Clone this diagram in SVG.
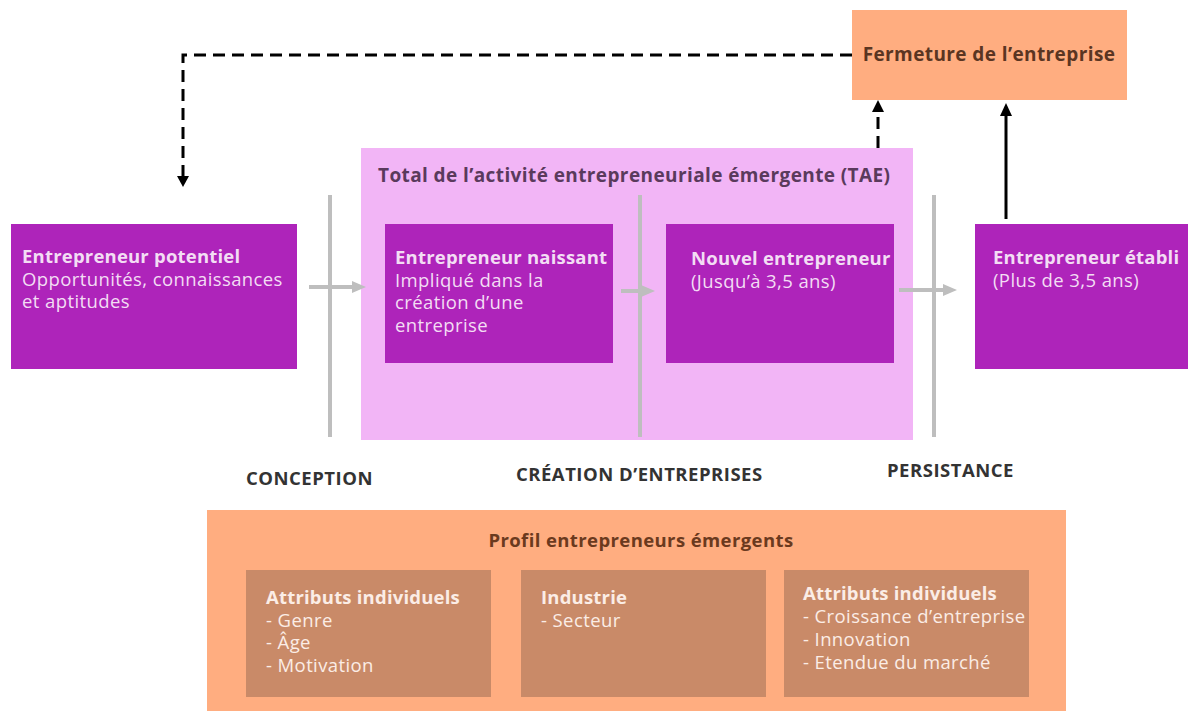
<svg xmlns="http://www.w3.org/2000/svg" width="1188" height="711" viewBox="0 0 1188 711">
<style>
text{font-family:"Open Sans","DejaVu Sans",sans-serif;}
.purple{fill:#AE24BA;}
.pt{fill:#F3DDF4;font-size:18.5px;letter-spacing:0.4px;}
.b{font-weight:bold;letter-spacing:0.2px;}
.grey{stroke:#BEBEBE;stroke-width:4;fill:none;}
.stage{fill:#333333;font-size:18.5px;font-weight:bold;letter-spacing:0.5px;}
.sub{fill:#C98A68;}
.st{fill:#FBEDE6;font-size:18.5px;letter-spacing:0.4px;}
.dash{stroke:#000;stroke-width:3;fill:none;stroke-dasharray:12,7;}
.big{font-size:19px;font-weight:bold;letter-spacing:0.4px;}
</style>
<defs>
<marker id="gh" markerWidth="14" markerHeight="14" refX="7" refY="7" orient="auto" markerUnits="userSpaceOnUse">
<path d="M0,1 L14,7 L0,13 Z" fill="#BEBEBE"/>
</marker>
</defs>
<rect width="1188" height="711" fill="#fff"/>

<g id="tae">
<rect x="361" y="148" width="552" height="292" fill="#F2B5F6"/>
<text x="378" y="182" fill="#5A3A5C" class="big">Total de l’activité entrepreneuriale émergente (TAE)</text>
</g>

<g id="fermeture">
<rect x="852" y="10" width="275" height="90" fill="#FFAD80"/>
<text x="989" y="61" text-anchor="middle" fill="#5A3522" class="big">Fermeture de l’entreprise</text>
</g>

<g id="separators">
<line class="grey" x1="330" y1="195" x2="330" y2="437"/>
<line class="grey" x1="640" y1="195" x2="640" y2="437"/>
<line class="grey" x1="934" y1="195" x2="934" y2="437"/>
</g>

<g id="potentiel">
<rect class="purple" x="11" y="224" width="286" height="145"/>
<text class="pt" x="22" y="263"><tspan class="b">Entrepreneur potentiel</tspan><tspan x="22" dy="22.5">Opportunités, connaissances</tspan><tspan x="22" dy="22.5">et aptitudes</tspan></text>
</g>

<g id="naissant">
<rect class="purple" x="385" y="224" width="228" height="139"/>
<text class="pt" x="395" y="264"><tspan class="b">Entrepreneur naissant</tspan><tspan x="395" dy="22.5">Impliqué dans la</tspan><tspan x="395" dy="22.5">création d’une</tspan><tspan x="395" dy="22.5">entreprise</tspan></text>
</g>

<g id="nouvel">
<rect class="purple" x="666" y="224" width="228" height="139"/>
<text class="pt" x="691" y="265"><tspan class="b">Nouvel entrepreneur</tspan><tspan x="691" dy="23">(Jusqu’à 3,5 ans)</tspan></text>
</g>

<g id="etabli">
<rect class="purple" x="975" y="224" width="213" height="145"/>
<text class="pt" x="993" y="264"><tspan class="b">Entrepreneur établi</tspan><tspan x="993" dy="23">(Plus de 3,5 ans)</tspan></text>
</g>

<g id="connectors">
<line class="grey" x1="309" y1="287" x2="359" y2="287" marker-end="url(#gh)"/>
<line class="grey" x1="621" y1="291" x2="648" y2="291" marker-end="url(#gh)"/>
<line class="grey" x1="899" y1="290" x2="950" y2="290" marker-end="url(#gh)"/>
<path class="dash" d="M852,55 H183 V178"/>
<path d="M177,176 L189,176 L183,187 Z" fill="#000"/>
<line class="dash" x1="878" y1="148" x2="878" y2="110"/>
<path d="M872,112 L884,112 L878,100 Z" fill="#000"/>
<line stroke="#000" stroke-width="3" x1="1006" y1="219" x2="1006" y2="112"/>
<path d="M1000,116 L1012,116 L1006,103 Z" fill="#000"/>
</g>

<g id="stages">
<text class="stage" x="246" y="485">CONCEPTION</text>
<text class="stage" x="516" y="481">CRÉATION D’ENTREPRISES</text>
<text class="stage" x="887" y="477">PERSISTANCE</text>
</g>

<g id="profil">
<rect x="207" y="510" width="859" height="201" fill="#FFAD80"/>
<text x="641" y="547" text-anchor="middle" fill="#6B3A1E" class="big" style="font-size:18.5px">Profil entrepreneurs émergents</text>
</g>

<g id="attributs1">
<rect class="sub" x="246" y="570" width="245" height="127"/>
<text class="st" x="266" y="604"><tspan class="b">Attributs individuels</tspan><tspan x="266" dy="22.5">- Genre</tspan><tspan x="266" dy="22.5">- Âge</tspan><tspan x="266" dy="22.5">- Motivation</tspan></text>
</g>

<g id="industrie">
<rect class="sub" x="521" y="570" width="245" height="127"/>
<text class="st" x="541" y="604"><tspan class="b">Industrie</tspan><tspan x="541" dy="22.5">- Secteur</tspan></text>
</g>

<g id="attributs2">
<rect class="sub" x="784" y="570" width="245" height="127"/>
<text class="st" x="803" y="600"><tspan class="b">Attributs individuels</tspan><tspan x="803" dy="23">- Croissance d’entreprise</tspan><tspan x="803" dy="23">- Innovation</tspan><tspan x="803" dy="23">- Etendue du marché</tspan></text>
</g>
</svg>
